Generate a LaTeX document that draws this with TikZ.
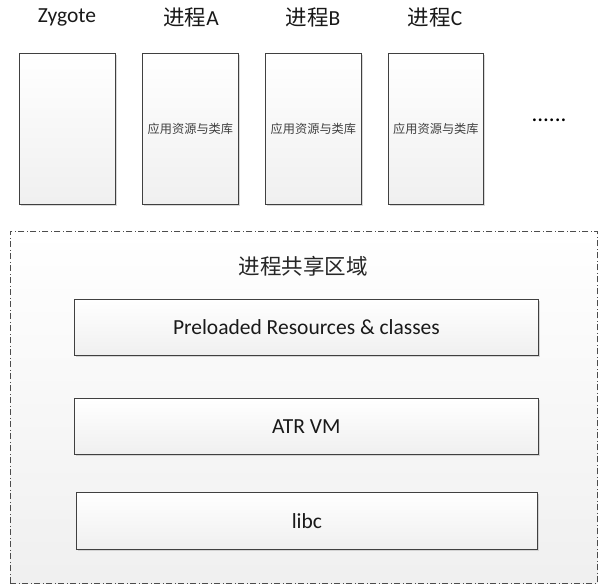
\documentclass[tikz,border=0pt]{standalone}
\usepackage{fontspec}
\setmainfont{Carlito}
\newfontfamily\cjk{Noto Sans CJK SC}
\usetikzlibrary{shadows}
\begin{document}
\begin{tikzpicture}[x=1pt,y=-1pt,
  procbox/.style={draw=black!75,line width=0.8pt,top color=white,bottom color=black!6,
    drop shadow={shadow xshift=2pt,shadow yshift=-2pt,fill=black!25,opacity=0.6},
    inner sep=0pt,anchor=north west},
  layerbox/.style={draw=black!75,line width=0.8pt,top color=white,bottom color=black!6,
    drop shadow={shadow xshift=2pt,shadow yshift=-2pt,fill=black!25,opacity=0.6},
    inner sep=0pt,anchor=north west,font=\fontsize{21.5}{24}\selectfont,text=black!90},
  titletext/.style={font=\fontsize{21.5}{24}\selectfont,text=black!90},
  smalltext/.style={font=\cjk\fontsize{12.2}{14}\selectfont,text=black!75},
]
\useasboundingbox (0,0) rectangle (599,585);
% shared region
\node[draw=black!70,line width=0.7pt,dash pattern=on 6pt off 2.5pt on 1pt off 2.5pt,
  top color=white,bottom color=black!6,anchor=north west,inner sep=0pt,
  minimum width=587pt,minimum height=352pt] (shared) at (10,231) {};
\node[font=\cjk\fontsize{21.5}{24}\selectfont,text=black!85] (sharedtitle) at (303,266) {进程共享区域};
\node[layerbox,minimum width=464pt,minimum height=56pt] (pre) at (74,299) {Preloaded Resources \& classes};
\node[layerbox,minimum width=464pt,minimum height=56pt] (vm) at (74,398) {ATR VM};
\node[layerbox,minimum width=461pt,minimum height=57pt] (libc) at (76,492) {libc};
% process boxes
\node[procbox,minimum width=96pt,minimum height=151pt] (zyg) at (19,53) {};
\node[procbox,minimum width=96pt,minimum height=151pt,smalltext] (pa) at (142,53) {应用资源与类库};
\node[procbox,minimum width=96pt,minimum height=151pt,smalltext] (pb) at (265,53) {应用资源与类库};
\node[procbox,minimum width=95pt,minimum height=151pt,smalltext] (pc) at (388,53) {应用资源与类库};
% titles
\node[titletext] (tz) at (67,17) {Zygote};
\node[titletext] (ta) at (191,17) {{\cjk 进程}A};
\node[titletext] (tb) at (313,17) {{\cjk 进程}B};
\node[titletext] (tc) at (435,17) {{\cjk 进程}C};
\node[font=\fontsize{23}{26}\selectfont] (dots) at (549,120) {......};
\end{tikzpicture}
\end{document}
